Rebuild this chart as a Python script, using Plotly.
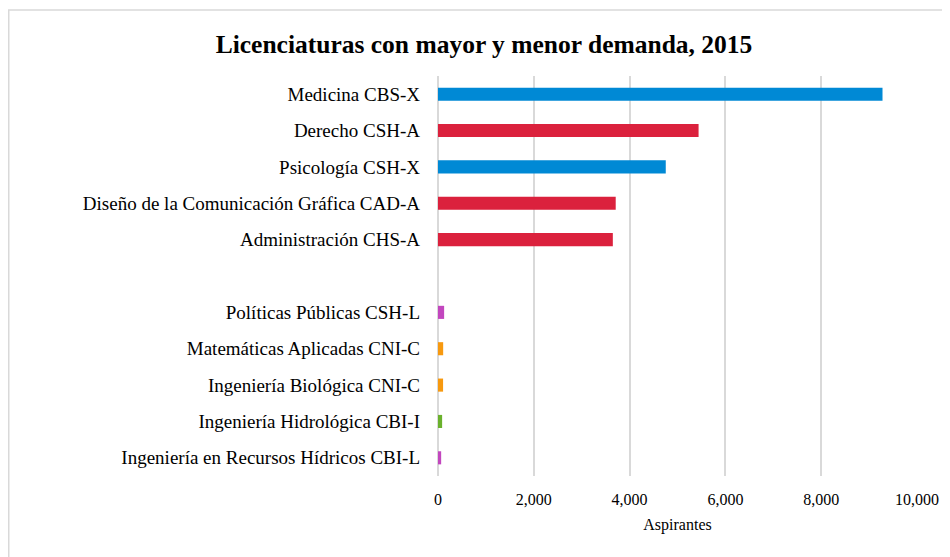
import plotly.graph_objects as go

categories = [
    "Medicina CBS-X",
    "Derecho CSH-A",
    "Psicología CSH-X",
    "Diseño de la Comunicación Gráfica CAD-A",
    "Administración CHS-A",
    " ",
    "Políticas Públicas CSH-L",
    "Matemáticas Aplicadas CNI-C",
    "Ingeniería Biológica CNI-C",
    "Ingeniería Hidrológica CBI-I",
    "Ingeniería en Recursos Hídricos CBI-L",
]
aspirantes = [9280, 5440, 4755, 3710, 3650, None, 128, 108, 106, 86, 66]
bar_colors = [
    "#0089D5", "#DB213D", "#0089D5", "#DB213D", "#DB213D", "#FFFFFF",
    "#C246BE", "#F7990F", "#F7990F", "#6AB12C", "#C246BE",
]
x_ticks = [0, 2000, 4000, 6000, 8000, 10000]

FONT = "Liberation Serif, Times New Roman, serif"
OFF = 8  # page body margin

fig = go.Figure(
    go.Bar(
        x=aspirantes,
        y=categories,
        orientation="h",
        marker=dict(color=bar_colors, line=dict(width=0)),
        width=0.36,
        hoverinfo="x+y",
    )
)

L, R, T, B = 438 - OFF, 917 - OFF, 76 - OFF, 476 - OFF
fig.update_layout(
    width=950,
    height=557,
    paper_bgcolor="white",
    plot_bgcolor="white",
    margin=dict(l=L, r=950 - R, t=T, b=557 - B),
    title=dict(
        text="<b>Licenciaturas con mayor y menor demanda, 2015</b>",
        font=dict(family=FONT, size=25.5, color="#000000"),
        x=(484 - OFF) / 950,
        xanchor="center",
        y=1 - (44 - OFF) / 557,
        yanchor="middle",
    ),
    showlegend=False,
    font=dict(family=FONT, color="#000000"),
)

fig.update_xaxes(
    range=[0, 10000],
    tickvals=x_ticks,
    tickformat=",",
    showgrid=True,
    gridcolor="#D9D9D9",
    gridwidth=1.5,
    zeroline=True,
    zerolinecolor="#D9D9D9",
    zerolinewidth=1.5,
    showline=False,
    tickfont=dict(family=FONT, size=16, color="#000000"),
    ticklabelstandoff=12,
    title=dict(text="Aspirantes", font=dict(family=FONT, size=16, color="#000000"), standoff=11),
    ticks="",
)
fig.update_yaxes(
    categoryorder="array",
    categoryarray=categories,
    autorange="reversed",
    showgrid=False,
    zeroline=False,
    showline=False,
    ticks="",
    tickfont=dict(family=FONT, size=19, color="#000000"),
    ticklabelstandoff=17,
)

# outer chart border
W = R - L
H = B - T
fig.add_shape(
    type="rect",
    xref="paper", yref="paper",
    x0=(0.75 - L) / W, x1=(970 - L) / W,
    y0=-(580 - B) / H, y1=(B - (10 - OFF)) / H,
    line=dict(color="#D9D9D9", width=1.5),
    fillcolor="rgba(0,0,0,0)",
    layer="below",
)

fig.write_html("out.html")
